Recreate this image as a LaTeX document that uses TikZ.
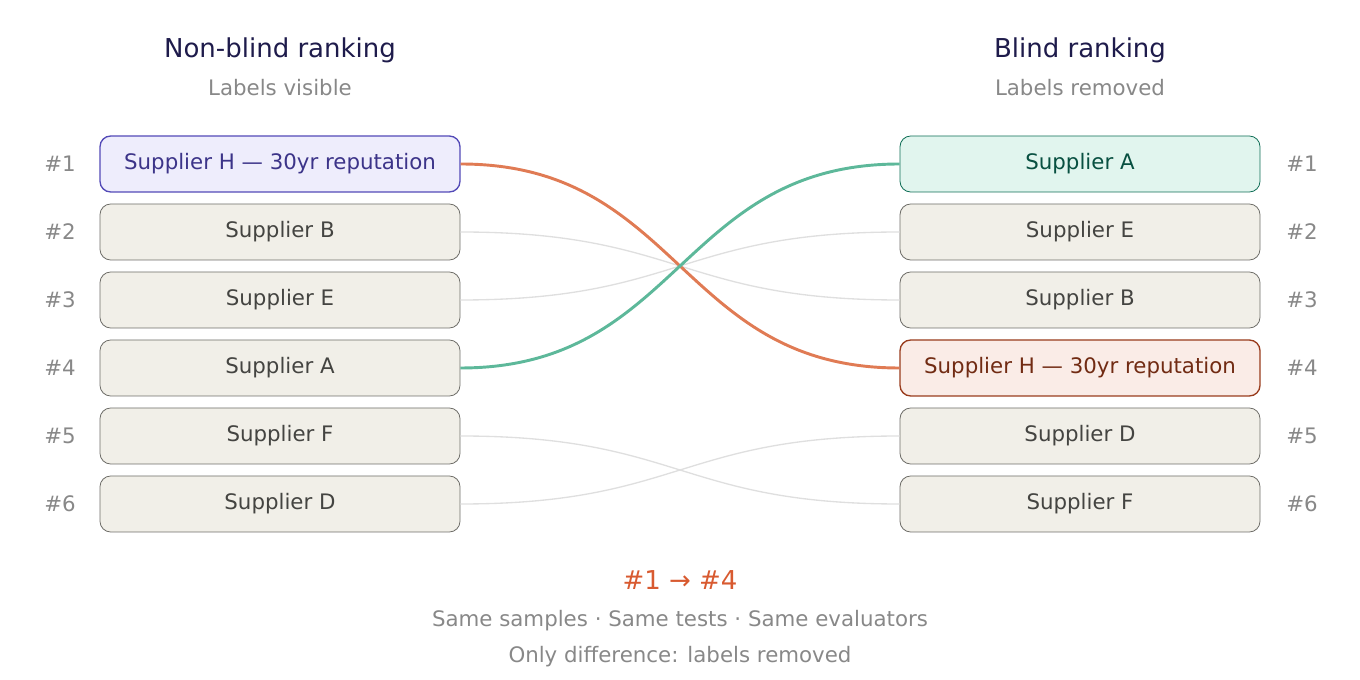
\documentclass[tikz,border=0pt]{standalone}
\usepackage{fontspec}
\setmainfont{DejaVu Sans}
\begin{document}
\definecolor{gfill}{HTML}{F1EFE8}\definecolor{gdraw}{HTML}{6E6D68}\definecolor{gtext}{HTML}{444441}
\definecolor{pfill}{HTML}{EEEDFC}\definecolor{pdraw}{HTML}{534AB7}\definecolor{ptext}{HTML}{3C3489}
\definecolor{tfill}{HTML}{E1F5EE}\definecolor{tdraw}{HTML}{0F6E56}\definecolor{ttext}{HTML}{085041}
\definecolor{ofill}{HTML}{FAECE7}\definecolor{odraw}{HTML}{993C1D}\definecolor{otext}{HTML}{712B13}
\definecolor{ocurve}{HTML}{E07B54}\definecolor{tcurve}{HTML}{5DB89A}\definecolor{lgray}{HTML}{888888}
\definecolor{navy}{HTML}{1E1B4B}\definecolor{accent}{HTML}{D85A30}
\begin{tikzpicture}[x=0.75pt,y=-0.75pt,
 box/.style={draw=gdraw,fill=gfill,text=gtext,rounded corners=8pt,minimum width=270pt,minimum height=42pt,inner sep=0pt,font=\fontsize{16}{18}\selectfont,line width=0.6pt},
 pbox/.style={box,draw=pdraw,fill=pfill,text=ptext,line width=1pt},
 tbox/.style={box,draw=tdraw,fill=tfill,text=ttext},
 obox/.style={box,draw=odraw,fill=ofill,text=otext,line width=1pt},
 rank/.style={text=lgray,font=\fontsize{16}{18}\selectfont},
 title/.style={text=navy,font=\fontsize{19.5}{22}\selectfont},
 sub/.style={text=lgray,font=\fontsize{16}{18}\selectfont},
 faint/.style={draw=gray!25,line width=1pt},
 hi/.style={line width=2.2pt}]
\useasboundingbox (0,0) rectangle (1360,680);
\node[title] (tl) at (280,50) {Non-blind ranking};
\node[sub] (sl) at (280,88) {Labels visible};
\node[title] (tr) at (1080,50) {Blind ranking};
\node[sub] (sr) at (1080,88) {Labels removed};
\node[pbox] (L1) at (280,164) {Supplier H — 30yr reputation};
\node[box] (L2) at (280,232) {Supplier B};
\node[box] (L3) at (280,300) {Supplier E};
\node[box] (L4) at (280,368) {Supplier A};
\node[box] (L5) at (280,436) {Supplier F};
\node[box] (L6) at (280,504) {Supplier D};
\node[tbox] (R1) at (1080,164) {Supplier A};
\node[box] (R2) at (1080,232) {Supplier E};
\node[box] (R3) at (1080,300) {Supplier B};
\node[obox] (R4) at (1080,368) {Supplier H — 30yr reputation};
\node[box] (R5) at (1080,436) {Supplier D};
\node[box] (R6) at (1080,504) {Supplier F};
\foreach \i/\y in {1/164,2/232,3/300,4/368,5/436,6/504}{
 \node[rank] (rl\i) at (60,\y) {\#\i};
 \node[rank] (rr\i) at (1302,\y) {\#\i};}
\draw[faint] (L2.east) .. controls (680,232) and (680,300) .. (R3.west);
\draw[faint] (L3.east) .. controls (680,300) and (680,232) .. (R2.west);
\draw[faint] (L5.east) .. controls (680,436) and (680,504) .. (R6.west);
\draw[faint] (L6.east) .. controls (680,504) and (680,436) .. (R5.west);
\draw[hi,draw=ocurve] (L1.east) .. controls (680,164) and (680,368) .. (R4.west);
\draw[hi,draw=tcurve] (L4.east) .. controls (680,368) and (680,164) .. (R1.west);
\node[text=accent,font=\fontsize{19.5}{22}\selectfont] (res) at (680,580) {\#1 → \#4};
\node[sub] (n1) at (680,621) {Same samples · Same tests · Same evaluators};
\node[sub] (n2) at (680,657) {Only difference: labels removed};
\end{tikzpicture}
\end{document}
